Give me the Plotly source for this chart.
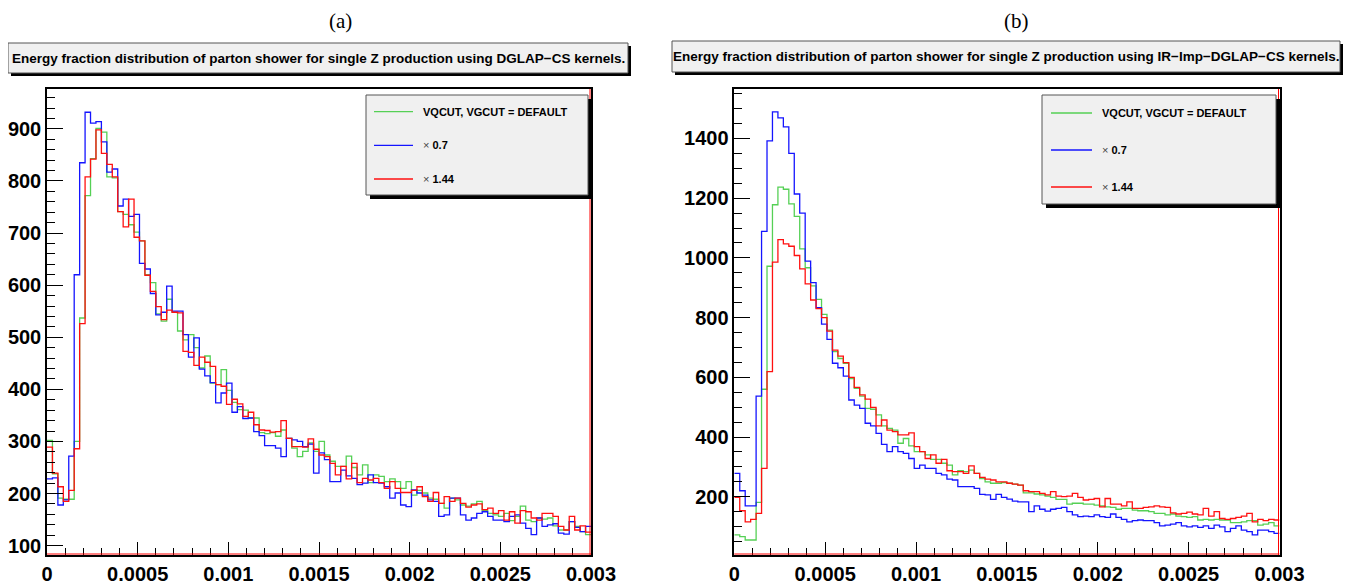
import numpy as np
import plotly.graph_objects as go

# ---- data: 100 bins on [0, 0.003], counts ----
n_bins = 100
x_lo, x_hi = 0.0, 0.003

# panel (a): DGLAP-CS kernels
a_default = [302, 238, 191, 189, 189, 300, 537, 772, 843, 901, 894, 808, 806, 741, 736, 716, 702, 685, 620, 605,
             545, 531, 573, 548, 512, 495, 505, 480, 441, 464, 412, 409, 438, 398, 375, 361, 360, 345, 345, 317,
             315, 317, 310, 322, 306, 287, 271, 281, 297, 281, 300, 274, 262, 252, 252, 272, 250, 236, 255, 221,
             236, 233, 223, 228, 223, 210, 223, 197, 206, 201, 191, 189, 181, 172, 191, 188, 178, 176, 180, 185,
             167, 162, 159, 156, 162, 148, 156, 176, 149, 146, 153, 151, 153, 138, 130, 130, 146, 137, 127, 121]
a_x07 = [228, 230, 178, 188, 272, 620, 835, 932, 911, 914, 875, 817, 823, 752, 765, 732, 736, 642, 631, 584,
         543, 548, 598, 550, 550, 505, 462, 499, 439, 426, 413, 374, 393, 412, 356, 367, 344, 345, 319, 311,
         292, 292, 287, 271, 306, 303, 300, 290, 295, 239, 278, 265, 223, 223, 245, 234, 229, 217, 220, 236,
         221, 220, 213, 191, 201, 178, 175, 207, 201, 197, 188, 185, 156, 159, 191, 191, 159, 149, 153, 162,
         165, 156, 149, 149, 146, 156, 159, 143, 133, 121, 153, 137, 140, 142, 124, 122, 146, 135, 127, 137]
a_x144 = [289, 239, 213, 185, 206, 286, 526, 808, 842, 898, 853, 832, 808, 741, 712, 765, 692, 685, 619, 588,
          559, 534, 552, 548, 547, 473, 471, 446, 462, 452, 444, 409, 406, 371, 381, 372, 348, 356, 332, 322,
          321, 318, 319, 340, 306, 290, 290, 289, 305, 285, 274, 271, 258, 236, 252, 228, 258, 221, 229, 226,
          229, 221, 210, 223, 210, 202, 202, 206, 213, 194, 185, 202, 181, 194, 185, 191, 181, 174, 178, 180,
          169, 172, 162, 167, 149, 165, 143, 167, 165, 153, 149, 162, 162, 156, 137, 130, 156, 130, 138, 126]

# panel (b): IR-Imp-DGLAP-CS kernels
b_default = [72, 66, 55, 55, 181, 560, 972, 1178, 1237, 1230, 1181, 1139, 1030, 967, 906, 861, 811, 758, 686, 663,
             647, 596, 563, 537, 496, 493, 474, 437, 429, 423, 379, 395, 370, 351, 351, 340, 325, 325, 312, 306,
             273, 287, 284, 289, 278, 261, 250, 245, 245, 247, 245, 242, 239, 213, 213, 209, 206, 202, 198, 191,
             191, 175, 178, 178, 175, 175, 172, 169, 166, 164, 158, 161, 161, 155, 153, 153, 150, 144, 144, 139,
             142, 135, 133, 131, 133, 122, 124, 122, 124, 122, 122, 113, 113, 116, 120, 120, 105, 108, 113, 102]
b_x07 = [278, 220, 169, 169, 537, 1089, 1392, 1489, 1469, 1439, 1350, 1214, 1150, 989, 917, 833, 778, 727, 647, 632,
         604, 524, 507, 496, 446, 437, 412, 375, 351, 368, 351, 345, 328, 295, 306, 295, 295, 278, 273, 259,
         256, 234, 234, 234, 228, 208, 206, 191, 208, 198, 192, 185, 183, 183, 150, 169, 158, 152, 158, 161,
         164, 150, 139, 133, 135, 133, 139, 133, 131, 142, 131, 124, 116, 120, 122, 120, 120, 113, 102, 105,
         108, 113, 102, 99, 102, 97, 102, 94, 105, 99, 83, 94, 102, 88, 83, 72, 88, 88, 83, 77]
b_x144 = [198, 153, 116, 124, 144, 295, 619, 986, 1061, 1047, 1039, 1008, 963, 913, 859, 830, 800, 755, 691, 671,
          649, 600, 566, 541, 527, 499, 437, 457, 423, 418, 407, 407, 414, 368, 351, 328, 340, 312, 325, 287,
          284, 284, 278, 303, 278, 265, 259, 256, 250, 250, 245, 242, 239, 220, 217, 217, 211, 206, 217, 202,
          200, 202, 211, 198, 189, 191, 194, 166, 194, 175, 175, 169, 183, 161, 161, 164, 166, 169, 166, 164,
          146, 142, 144, 148, 142, 139, 161, 135, 150, 127, 124, 127, 131, 135, 144, 116, 124, 120, 124, 122]

series_names = ["VQCUT, VGCUT = DEFAULT", "× 0.7", "× 1.44"]
x_tickvals = [0, 0.0005, 0.001, 0.0015, 0.002, 0.0025, 0.003]
x_ticktext = ["0", "0.0005", "0.001", "0.0015", "0.002", "0.0025", "0.003"]
titles = ["Energy fraction distribution of parton shower for single Z production using DGLAP\u2212CS kernels.",
          "Energy fraction distribution of parton shower for single Z production using IR\u2212Imp\u2212DGLAP\u2212CS kernels."]

GREEN, BLUE, RED = "#55d055", "#1414ff", "#ff1010"
FONT = "Liberation Sans"
# page body has an 8px margin, so the figure is shrunk by that and all
# positions below are given in window pixels and shifted back
OFF = 8
W, H = 1355 - OFF, 587 - OFF


def fx(p):
    return (p - OFF) / W


def fy(p):
    return 1 - (p - OFF) / H


edges = np.linspace(x_lo, x_hi, n_bins + 1)


def step(vals):
    return list(vals) + [vals[-1]]


fig = go.Figure()
for vals, col, xa, ya in [(a_default, GREEN, "x", "y"), (a_x07, BLUE, "x", "y"), (a_x144, RED, "x", "y"),
                          (b_default, GREEN, "x2", "y2"), (b_x07, BLUE, "x2", "y2"), (b_x144, RED, "x2", "y2")]:
    fig.add_trace(go.Scatter(x=edges, y=step(vals), mode="lines", line=dict(color=col, width=1.3, shape="hv"),
                             xaxis=xa, yaxis=ya, showlegend=False, hoverinfo="skip"))

tickfont = dict(family=FONT, size=20, color="black", weight="bold")
xcommon = dict(range=[x_lo, x_hi], tickmode="array", tickvals=x_tickvals, ticktext=x_ticktext,
               ticks="inside", ticklen=13, tickcolor="black", tickwidth=1, automargin=False,
               minor=dict(dtick=0.0001, ticks="inside", ticklen=7, tickcolor="black"),
               showline=True, linecolor="black", linewidth=1.5, mirror=True,
               showgrid=False, zeroline=False, tickfont=tickfont)
ycommon = dict(ticks="inside", ticklen=16, tickcolor="black", tickwidth=1, automargin=False,
               showline=True, linecolor="black", linewidth=1.5, mirror=True,
               showgrid=False, zeroline=False, tickfont=tickfont)

fig.update_layout(
    width=W, height=H, margin=dict(l=0, r=0, t=0, b=0, pad=0, autoexpand=False),
    paper_bgcolor="white", plot_bgcolor="white", showlegend=False,
    xaxis=dict(domain=[fx(47), fx(591)], anchor="y", **xcommon),
    yaxis=dict(domain=[fy(555), fy(89)], anchor="x", range=[82, 976.6], tick0=100, dtick=100,
               minor=dict(dtick=20, ticks="inside", ticklen=8, tickcolor="black"), **ycommon),
    xaxis2=dict(domain=[fx(734.3), fx(1279.5)], anchor="y2", **xcommon),
    yaxis2=dict(domain=[fy(555), fy(89)], anchor="x2", range=[4.7, 1565.8], tick0=0, dtick=200,
                minor=dict(dtick=50, ticks="inside", ticklen=8, tickcolor="black"), **ycommon),
)

shapes = []
annots = []


def box(x0, y0, x1, y1, sh=3):
    # ROOT-style pave: black shadow then grey box
    shapes.append(dict(type="rect", xref="paper", yref="paper", x0=fx(x0 + sh), x1=fx(x1 + sh),
                       y0=fy(y1 + sh), y1=fy(y0 + sh), fillcolor="black", line=dict(width=0)))
    shapes.append(dict(type="rect", xref="paper", yref="paper", x0=fx(x0), x1=fx(x1),
                       y0=fy(y1), y1=fy(y0), fillcolor="#f0f0f0", line=dict(color="#555555", width=1)))


# red frame edges (right and bottom) like the ROOT pads
for l, r in [(47, 591), (734.3, 1279.5)]:
    shapes.append(dict(type="line", xref="paper", yref="paper", x0=fx(r - 1), x1=fx(r - 1),
                       y0=fy(555), y1=fy(89), line=dict(color="red", width=1)))
    shapes.append(dict(type="line", xref="paper", yref="paper", x0=fx(l), x1=fx(r),
                       y0=fy(554), y1=fy(554), line=dict(color="red", width=1)))

# title boxes
for (x0, y0, x1, y1), t in zip([(8, 43, 628, 73), (672, 41, 1340, 72)], titles):
    box(x0, y0, x1, y1)
    annots.append(dict(x=fx((x0 + x1) / 2), y=fy((y0 + y1) / 2), xref="paper", yref="paper", text="<b>" + t + "</b>",
                       showarrow=False, font=dict(family=FONT, size=13.5, color="black"),
                       xanchor="center", yanchor="middle"))

# panel labels
for x, lab in [(340, "(a)"), (1016, "(b)")]:
    annots.append(dict(x=fx(x), y=1, xref="paper", yref="paper", text=lab, showarrow=False, borderpad=0,
                       font=dict(family="Liberation Serif", size=21, color="black"),
                       xanchor="center", yanchor="top"))

# legends
legends = [dict(box=(366, 95, 588, 195), rows=[111.7, 145.3, 179], lx=(374, 413), tx=421),
           dict(box=(1042, 95, 1276, 204), rows=[113, 150, 187], lx=(1051, 1092), tx=1100)]
for lg in legends:
    box(*lg["box"], sh=4)
    for name, col, ry in zip(series_names, [GREEN, BLUE, RED], lg["rows"]):
        shapes.append(dict(type="line", xref="paper", yref="paper", x0=fx(lg["lx"][0]), x1=fx(lg["lx"][1]),
                           y0=fy(ry), y1=fy(ry), line=dict(color=col, width=1.3)))
        if name.startswith("×"):
            txt = "<span style='color:#444444'>×</span> <b>" + name[2:] + "</b>"
        else:
            txt = "<b>" + name + "</b>"
        annots.append(dict(x=fx(lg["tx"]), y=fy(ry), xref="paper", yref="paper", text=txt, showarrow=False,
                           font=dict(family=FONT, size=11, color="black"), xanchor="left", yanchor="middle"))

fig.update_layout(shapes=shapes, annotations=annots)
fig.write_html("out.html")
